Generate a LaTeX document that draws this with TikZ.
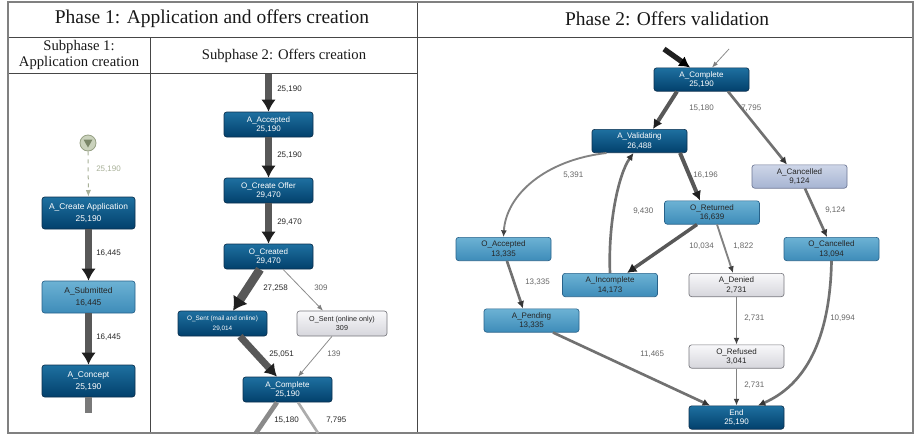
\documentclass[tikz,border=0pt]{standalone}
\usepackage{fontspec}
\setmainfont{Liberation Serif}
\newfontfamily\flowfont{Liberation Sans}
\usetikzlibrary{arrows.meta}

\definecolor{dkT}{RGB}{30,112,160}
\definecolor{dkB}{RGB}{2,64,108}
\definecolor{dkL}{RGB}{12,48,78}
\definecolor{lbT}{RGB}{108,178,212}
\definecolor{lbB}{RGB}{62,140,185}
\definecolor{lbL}{RGB}{40,98,138}
\definecolor{grT}{RGB}{248,248,250}
\definecolor{grB}{RGB}{214,214,220}
\definecolor{grL}{RGB}{120,120,126}
\definecolor{lvT}{RGB}{206,214,232}
\definecolor{lvB}{RGB}{166,180,210}
\definecolor{lvL}{RGB}{108,118,148}
\definecolor{shaft}{RGB}{88,88,88}
\definecolor{tipc}{RGB}{32,32,32}
\definecolor{thin}{RGB}{140,140,140}
\definecolor{startfill}{RGB}{202,210,188}
\definecolor{startline}{RGB}{150,160,132}
\definecolor{starttri}{RGB}{122,134,104}
\definecolor{startlab}{RGB}{168,176,152}
\definecolor{tabline}{RGB}{70,70,70}

\begin{document}
\begin{tikzpicture}[x=0.75pt,y=0.75pt,yscale=-1,xscale=1,
  act/.style={rounded corners=2pt,align=center,inner sep=0pt,line width=0.5pt,font=\flowfont\fontsize{6}{7}\selectfont},
  big/.style={minimum width=69.75pt,minimum height=24pt,font=\flowfont\fontsize{6.3}{9.5}\selectfont},
  mid/.style={minimum width=66.75pt,minimum height=18.75pt},
  rgt/.style={minimum width=71.25pt,minimum height=17.5pt},
  dk/.style={top color=dkT,bottom color=dkB,draw=dkL,text=white},
  lb/.style={top color=lbT,bottom color=lbB,draw=lbL,text=black!85},
  gr/.style={top color=grT,bottom color=grB,draw=grL,text=black!85},
  lv/.style={top color=lvT,bottom color=lvB,draw=lvL,text=black!85},
  heavy/.style={line width=5.25pt,draw=shaft,-{Latex[length=9pt,width=11pt,color=tipc]}},
  wide/.style={line width=3pt,draw=shaft,-{Latex[length=7pt,width=7.5pt,color=tipc]}},
  medium/.style={line width=2pt,draw=shaft!85,-{Latex[length=5.5pt,width=5.5pt,color=tipc!90]}},
  slim/.style={line width=1.4pt,draw=shaft!75,-{Latex[length=5pt,width=4.5pt,color=tipc!85]}},
  faint/.style={line width=0.6pt,draw=thin,-{Latex[length=4.5pt,width=3.5pt,color=thin!90!black]}},
  lab/.style={anchor=west,inner sep=0.75pt,text=black!85,font=\flowfont\fontsize{6}{6}\selectfont},
  labg/.style={lab,text=black!60},
  head/.style={inner sep=0pt,text=black!90}
]
\useasboundingbox (0,0) rectangle (915,436);

%Table frame
\draw[tabline,line width=0.6pt] (8,37) -- (913,37) (8,73) -- (417,73) (417,2) -- (417,433) (150,37) -- (150,433);
\draw[gray,line width=1.1pt] (8,2) rectangle (913,433);

% Text Node
\node[head,font=\fontsize{14.6}{15}\selectfont] (ph1) at (212,19) {Phase 1: Application and offers creation};
\node[head,font=\fontsize{14.6}{15}\selectfont] (ph2) at (667,19) {Phase 2: Offers validation};
\node[head,align=center,font=\fontsize{11}{12.5}\selectfont] (sp1) at (79,55) {Subphase 1:\\Application creation};
\node[head,font=\fontsize{11}{12}\selectfont] (sp2) at (284,56) {Subphase 2: Offers creation};

%Subphase 1
\node[circle,minimum size=12pt,inner sep=0pt,fill=startfill,draw=startline,line width=0.6pt] (st) at (88,143) {};
\fill[starttri] (st.center) ++(-4.5,-3.5) -- ++(9,0) -- ++(-4.5,8) -- cycle;
\node[act,big,dk] (cra) at (88.5,213) {A\_Create Application\\25,190};
\node[act,big,lb] (sub) at (88.5,297) {A\_Submitted\\16,445};
\node[act,big,dk] (con) at (88.5,381) {A\_Concept\\25,190};
\coordinate (cstub) at (88.5,413);

\draw[startlab,line width=0.75pt,dashed,-{Latex[length=5pt,width=4pt]}] (st) -- (cra);
\draw[heavy] (cra) -- (sub);
\draw[heavy] (sub) -- (con);
\draw[line width=5.25pt,shaft!80] (con) -- (cstub);

\node[lab,text=startlab] (lst) at (95,169) {25,190};
\node[lab] (lcra) at (95,253) {16,445};
\node[lab] (lsub) at (95,337) {16,445};

%Subphase 2
\coordinate (mtop) at (268.5,74);
\node[act,mid,dk] (acc) at (268.5,124.5) {A\_Accepted\\25,190};
\node[act,mid,dk] (cof) at (268.5,190.5) {O\_Create Offer\\29,470};
\node[act,mid,dk] (ocr) at (268.5,256.5) {O\_Created\\29,470};
\node[act,mid,dk,font=\flowfont\fontsize{4.8}{7}\selectfont] (osm) at (222.5,323.5) {O\_Sent (mail and online)\\29,014};
\node[act,mid,gr,minimum width=67.5pt,font=\flowfont\fontsize{5.4}{7}\selectfont] (oso) at (342,323.5) {O\_Sent (online only)\\309};
\node[act,mid,dk] (acm) at (287.5,389.5) {A\_Complete\\25,190};
\coordinate (mout1) at (256,433);
\coordinate (mout2) at (318,433);

\draw[heavy] (mtop) -- (acc);
\draw[heavy] (acc) -- (cof);
\draw[heavy] (cof) -- (ocr);
\draw[heavy,line width=6.5pt,-{Latex[length=10pt,width=13pt,color=tipc]}] ([xshift=-6.4pt]ocr.south) -- ([xshift=7.9pt]osm.north);
\draw[faint] ([xshift=10.9pt]ocr.south) -- ([xshift=-14.25pt]oso.north);
\draw[heavy] ([xshift=13.1pt]osm.south) -- ([xshift=-7.9pt]acm.north);
\draw[faint] ([xshift=-7.5pt]oso.south) -- ([xshift=7.9pt]acm.north);
\draw[line width=3.5pt,shaft!70] ([xshift=-7.9pt]acm.south) -- (mout1);
\draw[line width=2pt,shaft!50] ([xshift=7.9pt]acm.south) -- (mout2);

\node[lab] (lacc) at (276,89) {25,190};
\node[lab] (lcof) at (276,155) {25,190};
\node[lab] (locr) at (276,222) {29,470};
\node[lab] (losm) at (262,288) {27,258};
\node[labg] (loso) at (313,288) {309};
\node[lab] (lacm) at (268,354) {25,051};
\node[labg] (lacm2) at (326,354) {139};
\node[lab] (lout1) at (273,420) {15,180};
\node[lab] (lout2) at (325,420) {7,795};

%Phase 2
\coordinate (rin1) at (664,49);
\coordinate (rin2) at (729,49);
\node[act,rgt,dk] (rac) at (701.5,79.5) {A\_Complete\\25,190};
\node[act,rgt,dk] (val) at (639.5,141) {A\_Validating\\26,488};
\node[act,rgt,lv] (can) at (799.5,176.5) {A\_Cancelled\\9,124};
\node[act,rgt,lb] (ret) at (712,212.5) {O\_Returned\\16,639};
\node[act,rgt,lb] (oac) at (503.5,249) {O\_Accepted\\13,335};
\node[act,rgt,lb] (oca) at (831.5,249) {O\_Cancelled\\13,094};
\node[act,rgt,lb] (inc) at (610,285) {A\_Incomplete\\14,173};
\node[act,rgt,gr] (den) at (736.5,285) {A\_Denied\\2,731};
\node[act,rgt,lb] (pen) at (531.5,320.5) {A\_Pending\\13,335};
\node[act,rgt,gr] (ref) at (736.5,356.5) {O\_Refused\\3,041};
\node[act,rgt,dk] (end) at (736.5,417.5) {End\\25,190};

\draw[heavy,line width=4pt,draw=tipc,-{Latex[length=8pt,width=9pt,color=black]}] (rin1) -- ([xshift=-8.6pt]rac.north);
\draw[faint] (rin2) -- ([xshift=7.9pt]rac.north);
\draw[wide] ([xshift=-18.4pt]rac.south) -- ([xshift=10.1pt]val.north);
\draw[medium] ([xshift=19.9pt]rac.south) -- ([xshift=-9.4pt]can.north);
\draw[wide] ([xshift=30.4pt]val.south) -- ([xshift=-9pt]ret.north);
\draw[slim] (val.200) .. controls (545,160) and (506,195) .. (oac.north);
\draw[medium] ([xshift=0pt]inc.north) .. controls (608,225) and (618,175) .. ([xshift=-4.5pt]val.south);
\draw[wide,line width=2.6pt] ([xshift=-11.25pt]ret.south) -- ([xshift=12.75pt]inc.north);
\draw[slim] ([xshift=3.75pt]ret.south) -- ([xshift=-2.6pt]den.north);
\draw[medium] ([xshift=4.1pt]can.south) -- ([xshift=-3.4pt]oca.north);
\draw[medium] ([xshift=2.6pt]oac.south) -- ([xshift=-6.4pt]pen.north);
\draw[medium] ([xshift=16.1pt]pen.south) -- ([xshift=-19.9pt]end.north);
\draw[slim] (den) -- (ref);
\draw[slim] (ref) -- (end);
\draw[medium] (oca.south) .. controls (830,340) and (805,385) .. ([xshift=16.1pt]end.north);

\node[labg] (lval) at (688,108) {15,180};
\node[labg] (lcan) at (740,108) {7,795};
\node[labg] (loac) at (562,175) {5,391};
\node[labg] (lret) at (692,175) {16,196};
\node[labg] (loca) at (824,210) {9,124};
\node[labg] (linc) at (632,211) {9,430};
\node[labg] (lrinc) at (688,246) {10,034};
\node[labg] (lden) at (732,246) {1,822};
\node[labg] (lpen) at (524,282) {13,335};
\node[labg] (lref) at (743,318) {2,731};
\node[labg] (lend1) at (829,318) {10,994};
\node[labg] (lend2) at (639,354) {11,465};
\node[labg] (lend3) at (743,385) {2,731};

\end{tikzpicture}
\end{document}
